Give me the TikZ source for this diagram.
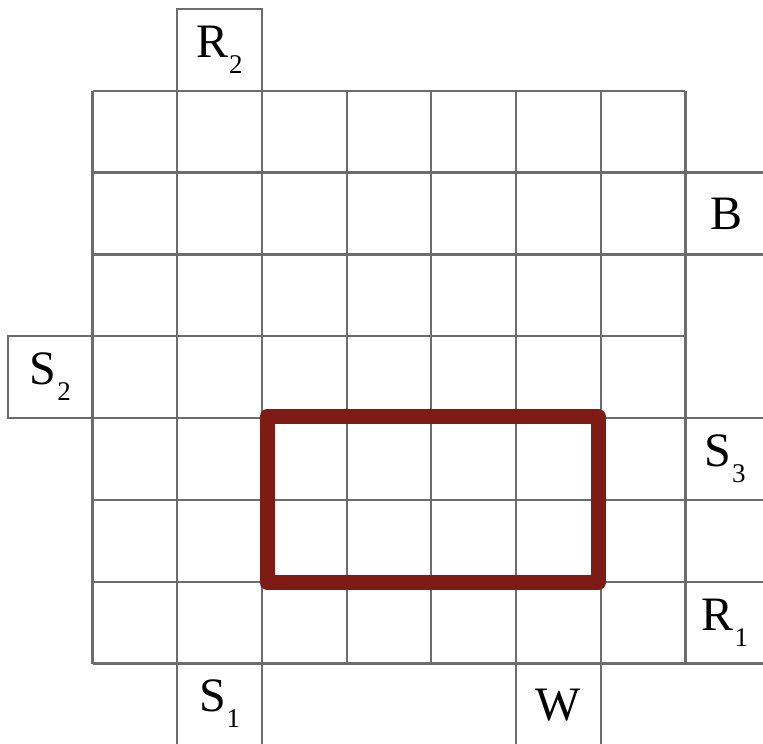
\documentclass[tikz,border=0pt]{standalone}
\usepackage{fontspec}
\setmainfont{Liberation Serif}
\definecolor{gridgray}{HTML}{6C6C6C}
\definecolor{boxred}{HTML}{7E1B15}
\newcommand{\sublab}[2]{#1\kern0.8pt\raisebox{-16pt}{\fontsize{27}{27}\selectfont #2}}
\begin{document}
\begin{tikzpicture}[x=1pt,y=-1pt,
  gridline/.style={draw=gridgray,line width=2.2pt},
  lbl/.style={font=\fontsize{48}{48}\selectfont, inner sep=0pt},
  redbox/.style={draw=boxred,line width=15pt,line join=round}]
\useasboundingbox (0,0) rectangle (763,744);
% main 7x7 grid
\foreach \x in {92.5,177.2,261.9,346.6,431.3,516.0,600.7,685.4}
  \draw[gridline] (\x,90.7) -- (\x,663.5);
\foreach \y in {90.7,172.5,254.4,336.2,418.0,499.9,581.7,663.5}
  \draw[gridline] (92.5,\y) -- (685.4,\y);
% outer cells
\draw[gridline] (177.2,90.7) -- (177.2,9) -- (261.9,9) -- (261.9,90.7);
\draw[gridline] (92.5,336.2) -- (8.3,336.2) -- (8.3,418.0) -- (92.5,418.0);
\foreach \y in {172.5,254.4,418.0,499.9,581.7,663.5}
  \draw[gridline] (685.4,\y) -- (763,\y);
\foreach \x in {177.2,261.9,516.0,600.7}
  \draw[gridline] (\x,663.5) -- (\x,744);
% labels
\node[lbl] (r2) at (219.5,50) {\sublab{R}{2}};
\node[lbl] (b) at (726,214) {B};
\node[lbl] (s2) at (50.4,377) {\sublab{S}{2}};
\node[lbl] (s3) at (725,459) {\sublab{S}{3}};
\node[lbl] (r1) at (725,622.6) {\sublab{R}{1}};
\node[lbl] (s1) at (219.5,703.7) {\sublab{S}{1}};
\node[lbl] (w) at (558.3,705) {W};
% highlighted rectangle
\draw[redbox] (267,416.5) rectangle (598,582.5);
\end{tikzpicture}
\end{document}
